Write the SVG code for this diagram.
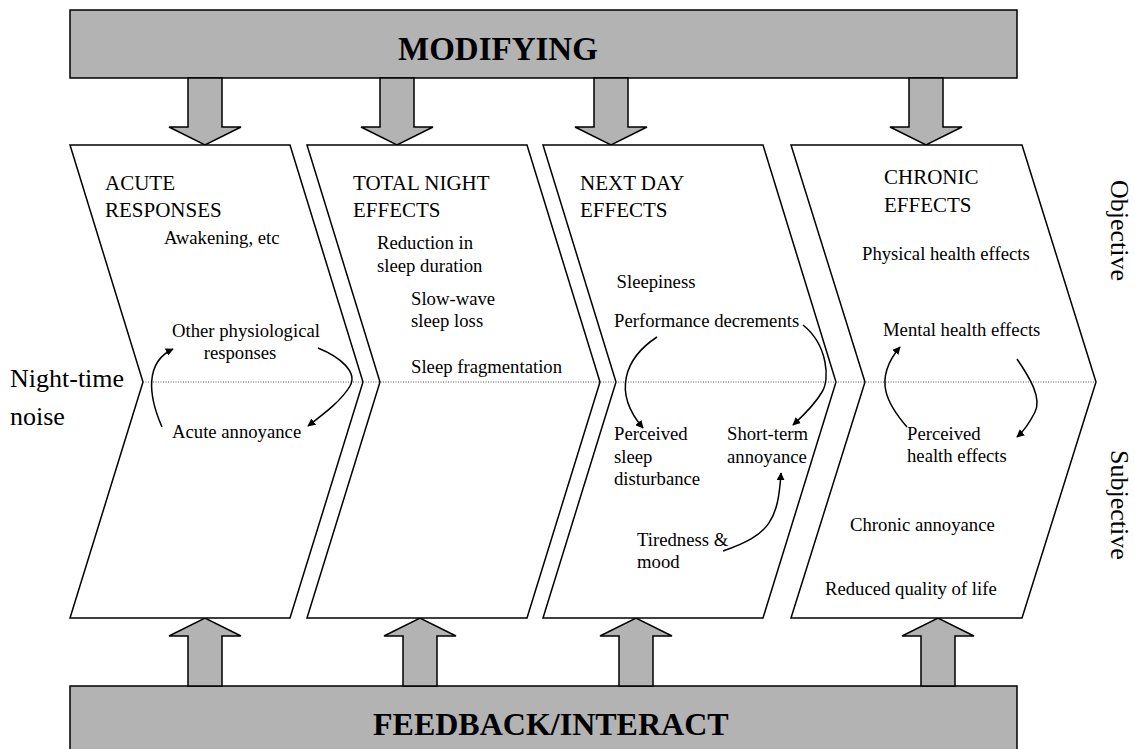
<svg xmlns="http://www.w3.org/2000/svg" width="1135" height="749" viewBox="0 0 1135 749">
<defs>
<style>
.bar{fill:#b3b3b3;stroke:#000;stroke-width:1.5}
.arr{fill:#b3b3b3;stroke:#000;stroke-width:1.5;stroke-linejoin:miter}
.chev{fill:#fff;stroke:#000;stroke-width:1.5;stroke-linejoin:miter}
.t{font-family:"Liberation Serif","Times New Roman",serif;fill:#000}
.title{font-size:21px}
.body{font-size:18.7px}
.big{font-size:26px}
.bold{font-size:33px;font-weight:bold}
.curve{fill:none;stroke:#000;stroke-width:1.5;marker-end:url(#ah)}
</style>
<marker id="ah" viewBox="0 0 10 10" refX="9" refY="5" markerWidth="8" markerHeight="8" markerUnits="userSpaceOnUse" orient="auto" >
<path d="M0,0 L10,5 L0,10 z" fill="#000"/>
</marker>
</defs>
<rect width="1135" height="749" fill="#fff"/>

<g id="modifying">
<rect class="bar" x="70" y="10" width="947" height="68"/>
<text class="t bold" x="398" y="60">MODIFYING</text>
</g>
<g id="feedback">
<rect class="bar" x="70" y="686" width="947" height="80"/>
<text class="t bold" x="373" y="735" style="font-size:32px">FEEDBACK/INTERACT</text>
</g>

<g id="down-arrows">
<polygon class="arr" points="188,78 222,78 222,127 241,127 205,145 169,127 188,127"/>
<polygon class="arr" points="380,78 414,78 414,127 433,127 397,145 361,127 380,127"/>
<polygon class="arr" points="594,78 628,78 628,127 647,127 611,145 575,127 594,127"/>
<polygon class="arr" points="909,78 943,78 943,127 962,127 926,145 890,127 909,127"/>
</g>
<g id="up-arrows">
<polygon class="arr" points="188,686 188,636 169,636 205,618 241,636 222,636 222,686"/>
<polygon class="arr" points="403,686 403,636 384,636 420,618 456,636 437,636 437,686"/>
<polygon class="arr" points="619,686 619,636 600,636 636,618 672,636 653,636 653,686"/>
<polygon class="arr" points="921,686 921,636 902,636 938,618 974,636 955,636 955,686"/>
</g>

<g id="acute">
<polygon class="chev" points="70,145 290,145 363,382 290,618 70,618 143,382"/>
<text class="t title" x="105" y="190">ACUTE</text>
<text class="t title" x="105" y="217">RESPONSES</text>
<text class="t body" x="164" y="244">Awakening, etc</text>
<text class="t body" x="172" y="337">Other physiological</text>
<text class="t body" x="240" y="359" text-anchor="middle">responses</text>
<text class="t body" x="172" y="438">Acute annoyance</text>
</g>
<g id="total-night">
<polygon class="chev" points="307,145 527,145 600,382 527,618 307,618 380,382"/>
<text class="t title" x="353" y="190">TOTAL NIGHT</text>
<text class="t title" x="353" y="217">EFFECTS</text>
<text class="t body" x="377" y="249">Reduction in</text>
<text class="t body" x="377" y="272">sleep duration</text>
<text class="t body" x="411" y="305">Slow-wave</text>
<text class="t body" x="411" y="327">sleep loss</text>
<text class="t body" x="411" y="373">Sleep fragmentation</text>
</g>
<g id="next-day">
<polygon class="chev" points="543,145 763,145 836,382 763,618 543,618 616,382"/>
<text class="t title" x="580" y="190">NEXT DAY</text>
<text class="t title" x="580" y="217">EFFECTS</text>
<text class="t body" x="656" y="288" text-anchor="middle">Sleepiness</text>
<text class="t body" x="614" y="327">Performance decrements</text>
<text class="t body" x="614" y="440">Perceived</text>
<text class="t body" x="614" y="463">sleep</text>
<text class="t body" x="614" y="485">disturbance</text>
<text class="t body" x="727" y="440">Short-term</text>
<text class="t body" x="727" y="463">annoyance</text>
<text class="t body" x="637" y="546">Tiredness &amp;</text>
<text class="t body" x="637" y="568">mood</text>
</g>
<g id="chronic">
<polygon class="chev" points="791,145 1022,145 1096,382 1022,618 791,618 865,382"/>
<text class="t title" x="884" y="184">CHRONIC</text>
<text class="t title" x="884" y="212">EFFECTS</text>
<text class="t body" x="862" y="260">Physical health effects</text>
<text class="t body" x="883" y="336">Mental health effects</text>
<text class="t body" x="907" y="440">Perceived</text>
<text class="t body" x="907" y="462">health effects</text>
<text class="t body" x="850" y="531">Chronic annoyance</text>
<text class="t body" x="825" y="595">Reduced quality of life</text>
</g>

<g id="labels">
<text class="t big" x="10" y="387">Night-time</text>
<text class="t big" x="10" y="425">noise</text>
<text class="t big" transform="translate(1111,180) rotate(90)">Objective</text>
<text class="t big" transform="translate(1111,450) rotate(90)">Subjective</text>
</g>

<g id="connectors">
<line x1="143" y1="382" x2="1096" y2="382" stroke="#555" stroke-width="1" stroke-dasharray="1,1.5"/>
<path class="curve" d="M162,427 C148,395 145,362 173,349"/>
<path class="curve" d="M318,348 C340,357 358,372 350,386 C342,400 325,413 308,426"/>
<path class="curve" d="M657,337 C625,358 612,392 643,428"/>
<path class="curve" d="M803,325 C828,345 830,380 822,392 C815,404 805,414 793,425"/>
<path class="curve" d="M723,551 C770,535 778,520 781,473"/>
<path class="curve" d="M907,427 C888,405 872,380 900,347"/>
<path class="curve" d="M1017,359 C1030,378 1042,398 1035,412 C1030,422 1025,430 1017,437"/>
</g>
</svg>
